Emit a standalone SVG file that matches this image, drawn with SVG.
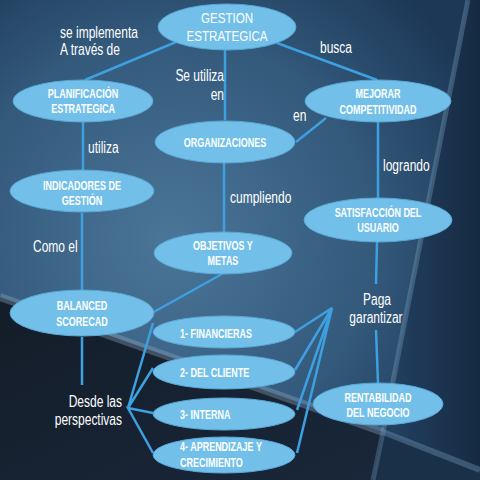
<svg xmlns="http://www.w3.org/2000/svg" width="480" height="480" viewBox="0 0 480 480">
<defs>
<radialGradient id="bg" cx="170" cy="240" r="340" gradientUnits="userSpaceOnUse">
<stop offset="0" stop-color="#4b7698"/>
<stop offset="0.6" stop-color="#33597b"/>
<stop offset="1" stop-color="#1d3857"/>
</radialGradient>
<linearGradient id="rgt" x1="0" y1="0" x2="1" y2="0">
<stop offset="0" stop-color="#234263"/>
<stop offset="1" stop-color="#162a42"/>
</linearGradient>
<linearGradient id="dk" x1="0" y1="0" x2="1" y2="1">
<stop offset="0" stop-color="#141d29"/>
<stop offset="1" stop-color="#19273a"/>
</linearGradient>
<style>
.n ellipse{fill:#72bfea;stroke:#5aa8d6;stroke-width:1}
text{transform:scale(0.75,1)}
.t{font-family:"Liberation Sans",Arial,sans-serif;font-weight:bold;font-size:12px;fill:#ffffff;text-anchor:middle}
.tl{text-anchor:start}
.g{font-family:"Liberation Sans",Arial,sans-serif;font-size:15.5px;fill:#ffffff;text-anchor:middle}
.lbl{font-family:"Liberation Sans",Arial,sans-serif;font-size:16px;fill:#ffffff}
.e{text-anchor:end}
.m{text-anchor:middle}
#connectors line,#connectors polyline{stroke:#3da0e0;stroke-width:2.5;fill:none}
</style>
</defs>
<g id="background">
<rect width="480" height="480" fill="url(#bg)"/>
<polygon points="468,0 480,0 480,470 383,432" fill="url(#rgt)"/>
<polygon points="0,297 383,432 373,480 0,480" fill="url(#dk)"/>
<polygon points="383,432 480,470 480,480 373,480" fill="#1a3049"/>
<line x1="468" y1="0" x2="383" y2="432" stroke="#7fa4c4" stroke-opacity="0.35" stroke-width="5"/>
<line x1="0" y1="297" x2="383" y2="432" stroke="#93aec6" stroke-opacity="0.35" stroke-width="8"/>
<line x1="383" y1="432" x2="480" y2="470" stroke="#7fa4c4" stroke-opacity="0.35" stroke-width="6"/>
<line x1="383" y1="432" x2="373" y2="480" stroke="#7fa4c4" stroke-opacity="0.3" stroke-width="5"/>
</g>
<g id="connectors">
<line x1="176" y1="42" x2="85" y2="80"/>
<line x1="225" y1="50" x2="225" y2="120"/>
<line x1="277" y1="43" x2="377" y2="80"/>
<line x1="296" y1="142" x2="326" y2="118"/>
<line x1="83" y1="122" x2="83" y2="170"/>
<line x1="224" y1="162" x2="224" y2="232"/>
<line x1="82" y1="213" x2="82" y2="290"/>
<line x1="222" y1="274" x2="152" y2="313"/>
<line x1="378" y1="122" x2="378" y2="198"/>
<line x1="377" y1="242" x2="376" y2="284"/>
<line x1="376" y1="330" x2="378" y2="383"/>
<line x1="82" y1="337" x2="82" y2="385"/>
<polyline points="153,323 128,408 153,368"/>
<polyline points="153,413 128,408 153,453"/>
<polyline points="295,332 332,308 295,370"/>
<polyline points="297,410 332,308 297,453"/>
</g>
<g id="labels">
<text class="lbl" x="80" y="38">se implementa</text>
<text class="lbl" x="80" y="55">A través de</text>
<text class="lbl e" x="298.7" y="81">Se utiliza</text>
<text class="lbl e" x="298.7" y="100">en</text>
<text class="lbl" x="426.7" y="53">busca</text>
<text class="lbl" x="390.7" y="121">en</text>
<text class="lbl" x="117.3" y="153">utiliza</text>
<text class="lbl" x="44" y="252">Como el</text>
<text class="lbl" x="306.7" y="203">cumpliendo</text>
<text class="lbl" x="510.7" y="171">logrando</text>
<text class="lbl m" x="502.7" y="305">Paga</text>
<text class="lbl m" x="501.3" y="323">garantizar</text>
<text class="lbl e" x="162.7" y="407">Desde las</text>
<text class="lbl e" x="162.7" y="425">perspectivas</text>
</g>
<g id="n-gestion" class="n"><ellipse cx="227" cy="27" rx="69" ry="23"/><text class="g" x="302.7" y="23">GESTION</text><text class="g" x="302.7" y="41">ESTRATEGICA</text></g>
<g id="n-planificacion" class="n"><ellipse cx="83" cy="101" rx="70" ry="21"/><text class="t" x="110.7" y="98">PLANIFICACIÓN</text><text class="t" x="110.7" y="113">ESTRATEGICA</text></g>
<g id="n-organizaciones" class="n"><ellipse cx="225" cy="142" rx="70" ry="21"/><text class="t" x="300" y="147">ORGANIZACIONES</text></g>
<g id="n-mejorar" class="n"><ellipse cx="378" cy="101" rx="73" ry="21"/><text class="t" x="504" y="98">MEJORAR</text><text class="t" x="504" y="114">COMPETITIVIDAD</text></g>
<g id="n-indicadores" class="n"><ellipse cx="82" cy="191" rx="72" ry="21"/><text class="t" x="109.3" y="190">INDICADORES DE</text><text class="t" x="109.3" y="205">GESTIÓN</text></g>
<g id="n-objetivos" class="n"><ellipse cx="223" cy="253" rx="69" ry="21"/><text class="t" x="297.3" y="250">OBJETIVOS Y</text><text class="t" x="297.3" y="265">METAS</text></g>
<g id="n-satisfaccion" class="n"><ellipse cx="378" cy="220" rx="74" ry="22"/><text class="t" x="504" y="217">SATISFACCIÓN DEL</text><text class="t" x="504" y="232">USUARIO</text></g>
<g id="n-balanced" class="n"><ellipse cx="82" cy="313" rx="72" ry="23"/><text class="t" x="109.3" y="310">BALANCED</text><text class="t" x="109.3" y="326">SCORECAD</text></g>
<g id="n-financieras" class="n"><ellipse cx="224" cy="332" rx="71" ry="16"/><text class="t tl" x="240" y="338">1- FINANCIERAS</text></g>
<g id="n-cliente" class="n"><ellipse cx="224" cy="372" rx="71" ry="17"/><text class="t tl" x="240" y="377">2- DEL CLIENTE</text></g>
<g id="n-interna" class="n"><ellipse cx="224" cy="414" rx="71" ry="16"/><text class="t tl" x="240" y="419">3- INTERNA</text></g>
<g id="n-aprendizaje" class="n"><ellipse cx="224" cy="455" rx="71" ry="18"/><text class="t tl" x="240" y="451">4- APRENDIZAJE Y</text><text class="t tl" x="240" y="467">CRECIMIENTO</text></g>
<g id="n-rentabilidad" class="n"><ellipse cx="378" cy="404" rx="65" ry="21"/><text class="t" x="504" y="402">RENTABILIDAD</text><text class="t" x="504" y="417">DEL NEGOCIO</text></g>
</svg>
